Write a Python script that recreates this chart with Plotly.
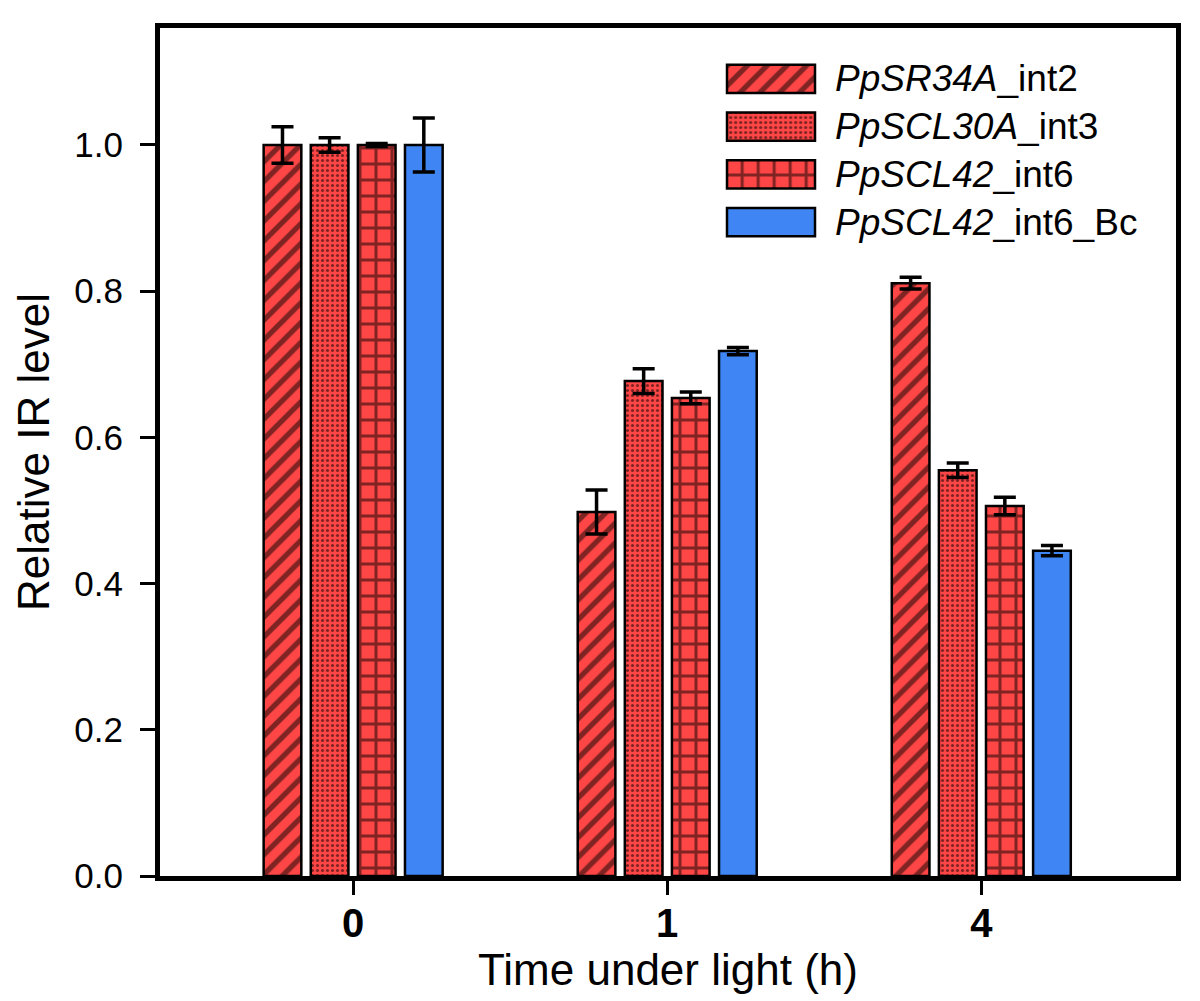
import plotly.graph_objects as go

# ---- data ----
categories = ["0", "1", "4"]
series_names = ["PpSR34A_int2", "PpSCL30A_int3", "PpSCL42_int6", "PpSCL42_int6_Bc"]
series_labels = ["<i>PpSR34A</i>_int2", "<i>PpSCL30A</i>_int3", "<i>PpSCL42</i>_int6", "<i>PpSCL42</i>_int6_Bc"]
sr34a_vals = [1.0, 0.498, 0.811]
sr34a_err = [0.025, 0.030, 0.008]
scl30a_vals = [1.0, 0.677, 0.555]
scl30a_err = [0.010, 0.017, 0.010]
scl42_vals = [1.0, 0.654, 0.506]
scl42_err = [0.002, 0.008, 0.012]
scl42bc_vals = [1.0, 0.718, 0.445]
scl42bc_err = [0.037, 0.005, 0.007]
y_ticks = [0.0, 0.2, 0.4, 0.6, 0.8, 1.0]

values = [sr34a_vals, scl30a_vals, scl42_vals, scl42bc_vals]
errors = [sr34a_err, scl30a_err, scl42_err, scl42bc_err]

RED = "#FF4646"
BLUE = "#3F86F4"
colors = [RED, RED, RED, BLUE]
patterns = [
    dict(shape="/", fgcolor="black", size=14, solidity=0.38),
    dict(shape=".", fgcolor="black", size=5, solidity=0.3),
    dict(shape="+", fgcolor="black", size=16, solidity=0.34),
    dict(shape=""),
]

FONT = "Liberation Sans, Arial, sans-serif"

fig = go.Figure()
for name, v, e, c, p in zip(series_names, values, errors, colors, patterns):
    fig.add_trace(go.Bar(
        x=categories, y=v, name=name,
        marker=dict(color=c, line=dict(color="black", width=2.5), pattern=p),
        error_y=dict(type="data", array=e, visible=True, color="black", thickness=3.5, width=11),
        showlegend=False,
    ))

# ---- legend drawn on an auxiliary axis ----
legend_rows = [0, 1, 2, 3]
for row, label, c, p in zip(legend_rows, series_labels, colors, patterns):
    fig.add_trace(go.Bar(
        x=[1], y=[row], base=0, orientation="h", width=0.59,
        marker=dict(color=c, line=dict(color="black", width=2.5), pattern=p),
        xaxis="x2", yaxis="y2", showlegend=False, hoverinfo="skip",
    ))
    fig.add_annotation(
        text=label, xref="x2 domain", yref="y2", x=1.09, y=row,
        xanchor="left", yanchor="middle", showarrow=False,
        font=dict(family=FONT, size=37, color="black"),
    )

# page body has an 8px margin; size the figure so the plot area lands where the reference has it
OFF = 8
W, H = 1200 - OFF, 1001 - OFF
ML, MT = 160 - OFF, 28 - OFF
pw, ph = 1016, 848
MR, MB = W - ML - pw, H - MT - ph

def px_x(p):
    return (p - OFF - ML) / pw

def px_y(p):
    return (OFF + MT + ph - p) / ph

fig.update_layout(
    width=W, height=H,
    margin=dict(l=ML, r=MR, t=MT, b=MB, pad=0),
    paper_bgcolor="white", plot_bgcolor="white",
    barmode="group", bargap=0.4, bargroupgap=0.2,
    font=dict(family=FONT, color="black"),
    xaxis=dict(
        type="category", range=[-0.615, 2.62],
        showline=True, linecolor="black", linewidth=5, mirror=True,
        ticks="outside", ticklen=14, tickwidth=3, tickcolor="black",
        tickfont=dict(family=FONT, size=40, weight="bold"), ticklabelstandoff=-6,
        showgrid=False, zeroline=False,
        title=dict(text="Time under light (h)", font=dict(family=FONT, size=44), standoff=4),
    ),
    yaxis=dict(
        range=[0, 1.16], tickvals=y_ticks, tickformat=".1f",
        showline=True, linecolor="black", linewidth=5, mirror=True,
        ticks="outside", ticklen=15, tickwidth=3, tickcolor="black",
        tickfont=dict(family=FONT, size=35), ticklabelstandoff=10,
        showgrid=False, zeroline=False,
        title=dict(text="Relative IR level", font=dict(family=FONT, size=44), standoff=12),
    ),
    xaxis2=dict(domain=[px_x(727 - 8.8), px_x(815 + 8.8)], range=[-0.1, 1.1],
                anchor="y2", visible=False, fixedrange=True),
    yaxis2=dict(domain=[px_y(246), px_y(55)], range=[3.5, -0.5],
                anchor="x2", visible=False, fixedrange=True),
)

fig.write_html("out.html")
